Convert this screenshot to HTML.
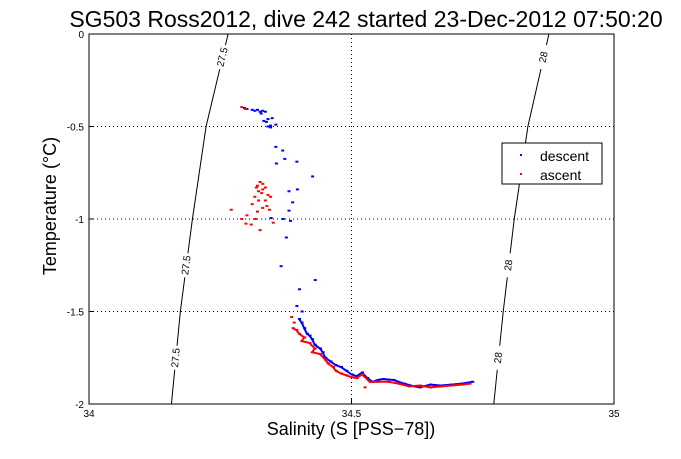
<!DOCTYPE html>
<html><head><meta charset="utf-8"><style>
body{margin:0;background:#fff;}
svg text{font-family:"Liberation Sans",sans-serif;}
</style></head><body>
<svg width="681" height="454" xmlns="http://www.w3.org/2000/svg">
<rect width="681" height="454" fill="#fff"/>
<text x="366" y="27" font-size="23" text-anchor="middle">SG503 Ross2012, dive 242 started 23-Dec-2012 07:50:20</text>
<g id="grid"></g>
<g id="contours"></g>
<g id="marks"></g>
<rect x="89" y="34" width="525" height="370" fill="none" stroke="#000" stroke-width="1"/>
<g id="ticks"></g>
<text x="351" y="435" font-size="18" text-anchor="middle">Salinity (S [PSS−78])</text>
<text transform="translate(56,206) rotate(-90)" font-size="18" text-anchor="middle">Temperature (°C)</text>
<g>
<rect x="502" y="143" width="100" height="41" fill="#fff" stroke="#000"/>
<rect x="520" y="154" width="2" height="2" fill="#00f"/>
<text x="540" y="161" font-size="14">descent</text>
<rect x="520" y="173" width="2" height="2" fill="#f00"/>
<text x="540" y="180" font-size="14">ascent</text>
</g>
</svg>
<script>
const xTicks=[34,34.5,35];
const yTicks=[0,-0.5,-1,-1.5,-2];
const yTickLabels=["0","-0.5","-1","-1.5","-2"];
const descentS=[34.295,34.30,34.31,34.315,34.32,34.325,34.327,34.33,34.335,34.34,34.332,34.337,34.348,34.355,34.345,34.34,34.345,34.355,34.368,34.372,34.395,34.356,34.425,34.38,34.396,34.387,34.38,34.346,34.369,34.383,34.375,34.365,34.43,34.40,34.395,34.405,34.40,34.405,34.41,34.415,34.42,34.425,34.43,34.44,34.445,34.45,34.46,34.47,34.48,34.49,34.50,34.51,34.52,34.53,34.54,34.55,34.56,34.58,34.60,34.62,34.63,34.65,34.67,34.69,34.71,34.73];
const descentT=[-0.40,-0.405,-0.41,-0.415,-0.41,-0.42,-0.43,-0.415,-0.42,-0.46,-0.47,-0.475,-0.455,-0.49,-0.495,-0.50,-0.505,-0.61,-0.63,-0.675,-0.69,-0.70,-0.77,-0.85,-0.84,-0.91,-0.955,-0.995,-1.0,-1.01,-1.10,-1.255,-1.33,-1.38,-1.47,-1.50,-1.54,-1.56,-1.59,-1.62,-1.63,-1.65,-1.68,-1.70,-1.72,-1.75,-1.77,-1.79,-1.80,-1.82,-1.84,-1.85,-1.83,-1.86,-1.88,-1.87,-1.865,-1.87,-1.89,-1.905,-1.91,-1.895,-1.90,-1.895,-1.89,-1.88];
const ascentS=[34.29,34.297,34.32,34.325,34.33,34.318,34.322,34.33,34.335,34.328,34.34,34.315,34.322,34.335,34.345,34.31,34.33,34.338,34.343,34.30,34.32,34.316,34.35,34.308,34.325,34.27,34.29,34.298,34.385,34.39,34.388,34.395,34.40,34.41,34.405,34.42,34.43,34.425,34.44,34.45,34.455,34.465,34.47,34.48,34.49,34.50,34.51,34.52,34.535,34.55,34.57,34.59,34.61,34.63,34.65,34.67,34.69,34.71,34.725,34.525];
const ascentT=[-0.395,-0.405,-0.82,-0.80,-0.81,-0.83,-0.85,-0.84,-0.83,-0.86,-0.87,-0.88,-0.90,-0.90,-0.88,-0.92,-0.94,-0.93,-0.95,-0.98,-0.96,-1.0,-1.02,-1.03,-1.06,-0.95,-1.0,-1.025,-1.53,-1.56,-1.59,-1.60,-1.62,-1.64,-1.66,-1.67,-1.70,-1.72,-1.73,-1.76,-1.78,-1.80,-1.82,-1.835,-1.845,-1.855,-1.86,-1.84,-1.88,-1.88,-1.88,-1.89,-1.905,-1.90,-1.91,-1.905,-1.90,-1.895,-1.89,-1.91];
const contourLevels=["27.5","28"];
const contour275S=[34.157,34.174,34.197,34.223,34.265];
const contour28S=[34.771,34.789,34.810,34.836,34.876];
const contourT=[-2,-1.5,-1,-0.5,0];

const NS="http://www.w3.org/2000/svg";
const X=s=>89+(s-34)/1*525;
const Y=t=>34+(-t)/2*370;
function mk(tag,attrs,parent){const e=document.createElementNS(NS,tag);for(const k in attrs)e.setAttribute(k,attrs[k]);parent.appendChild(e);return e;}
const grid=document.getElementById('grid'),ticks=document.getElementById('ticks'),marks=document.getElementById('marks'),cont=document.getElementById('contours');
xTicks.forEach((v,i)=>{
  if(i>0&&i<xTicks.length-1){const l=mk('line',{x1:X(v),x2:X(v),y1:34,y2:404,stroke:'#000','stroke-dasharray':'1,3'},grid);
  
  }
  const t=mk('line',{x1:X(v),x2:X(v),y1:404,y2:399,stroke:'#000'},ticks);
  
  
  const tx=mk('text',{x:X(v),y:417,'font-size':10,'text-anchor':'middle'},ticks);tx.textContent=String(v);
  
  
});
yTicks.forEach((v,i)=>{
  if(i>0&&i<yTicks.length-1){const l=mk('line',{x1:89,x2:614,y1:Y(v),y2:Y(v),stroke:'#000','stroke-dasharray':'1,3'},grid);
  
  }
  const t=mk('line',{x1:89,x2:94,y1:Y(v),y2:Y(v),stroke:'#000'},ticks);
  
  
  const tx=mk('text',{x:84,y:Y(v)+4,'font-size':10,'text-anchor':'end'},ticks);tx.textContent=yTickLabels[i];
  
  
});
[contour275S,contour28S].forEach((arr,ci)=>{
  const pts=arr.map((s,i)=>X(s)+','+Y(contourT[i])).join(' ');
  const p=mk('polyline',{points:pts,fill:'none',stroke:'#000','stroke-width':1},cont);
  
  
  [[3,4],[1,2],[0,1]].forEach(([a,b],k)=>{
    const fr=k===0?0.75:0.5;
    const t0=contourT[a]+(contourT[b]-contourT[a])*fr, s0=arr[a]+(arr[b]-arr[a])*fr;
    const ang=Math.atan2(Y(contourT[b])-Y(contourT[a]),X(arr[b])-X(arr[a]))*180/Math.PI;
    const cx=X(s0),cy=Y(t0);
    mk('rect',{x:cx-4,y:cy-12,width:8,height:24,fill:'#fff'},cont);
    const tx=mk('text',{x:cx,y:cy+3,'font-size':10,'text-anchor':'middle',transform:`rotate(${ang},${cx},${cy})`},cont);
    tx.textContent=contourLevels[ci];
    
    
  });
});
function drawSeries(S,T,color,name,tailStart,tailEnd){
  const tail=S.slice(tailStart,tailEnd).map((s,i)=>X(s)+','+Y(T[tailStart+i])).join(' ');
  const pl=mk('polyline',{points:tail,fill:'none',stroke:color,'stroke-width':2},marks);
  
  
  S.forEach((s,i)=>{
    const r=mk('rect',{x:X(s)-1,y:Y(T[i])-1,width:3,height:2,fill:color},marks);
    
    
  });
}
drawSeries(descentS,descentT,'#00f','descent',36,descentS.length);
drawSeries(ascentS,ascentT,'#f00','ascent',30,ascentS.length-1);
</script>
</body></html>
